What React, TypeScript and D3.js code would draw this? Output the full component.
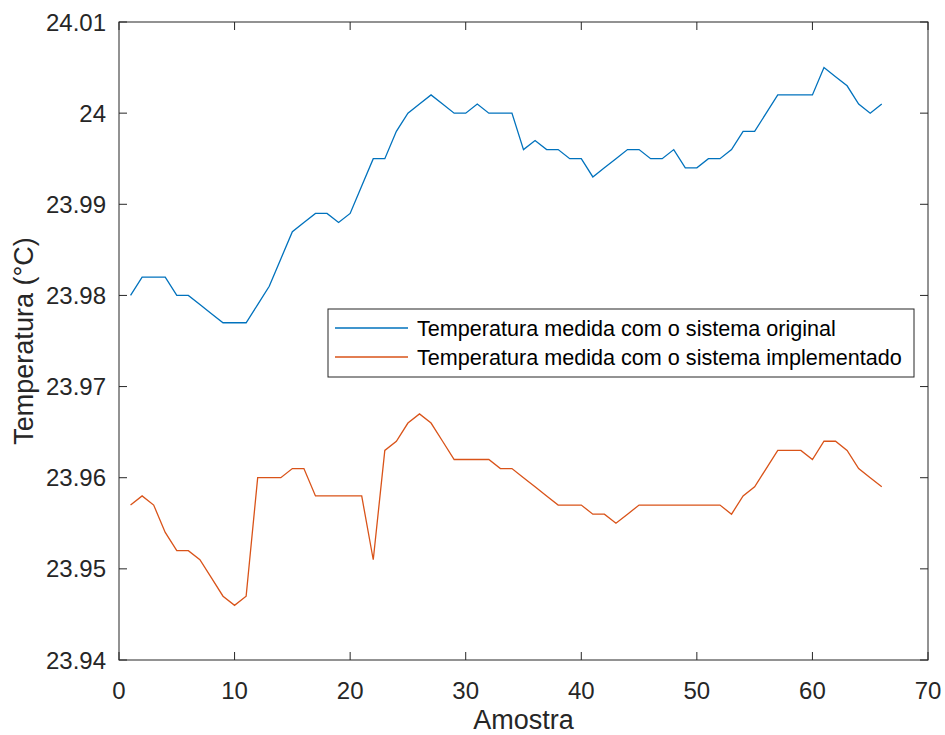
import React from "react";
import * as d3 from "d3";

const samples: number[] = Array.from({ length: 66 }, (_, i) => i + 1);

const original: number[] = [
  23.980, 23.982, 23.982, 23.982, 23.980, 23.980, 23.979, 23.978, 23.977, 23.977,
  23.977, 23.979, 23.981, 23.984, 23.987, 23.988, 23.989, 23.989, 23.988, 23.989,
  23.992, 23.995, 23.995, 23.998, 24.000, 24.001, 24.002, 24.001, 24.000, 24.000,
  24.001, 24.000, 24.000, 24.000, 23.996, 23.997, 23.996, 23.996, 23.995, 23.995,
  23.993, 23.994, 23.995, 23.996, 23.996, 23.995, 23.995, 23.996, 23.994, 23.994,
  23.995, 23.995, 23.996, 23.998, 23.998, 24.000, 24.002, 24.002, 24.002, 24.002,
  24.005, 24.004, 24.003, 24.001, 24.000, 24.001,
];

const implemented: number[] = [
  23.957, 23.958, 23.957, 23.954, 23.952, 23.952, 23.951, 23.949, 23.947, 23.946,
  23.947, 23.960, 23.960, 23.960, 23.961, 23.961, 23.958, 23.958, 23.958, 23.958,
  23.958, 23.951, 23.963, 23.964, 23.966, 23.967, 23.966, 23.964, 23.962, 23.962,
  23.962, 23.962, 23.961, 23.961, 23.960, 23.959, 23.958, 23.957, 23.957, 23.957,
  23.956, 23.956, 23.955, 23.956, 23.957, 23.957, 23.957, 23.957, 23.957, 23.957,
  23.957, 23.957, 23.956, 23.958, 23.959, 23.961, 23.963, 23.963, 23.963, 23.962,
  23.964, 23.964, 23.963, 23.961, 23.960, 23.959,
];

const xTicks: number[] = [0, 10, 20, 30, 40, 50, 60, 70];
const yTicks: number[] = [23.94, 23.95, 23.96, 23.97, 23.98, 23.99, 24.0, 24.01];
const yTickLabels: string[] = ["23.94", "23.95", "23.96", "23.97", "23.98", "23.99", "24", "24.01"];

const seriesNames: string[] = [
  "Temperatura medida com o sistema original",
  "Temperatura medida com o sistema implementado",
];
const seriesColors: string[] = ["#0072BD", "#D95319"];

const W = 945;
const H = 735;
const left = 119;
const right = 928;
const top = 22;
const bottom = 660;
const font = "Arial, 'Liberation Sans', Helvetica, sans-serif";
const axisColor = "#262626";

export default function App() {
  const x = d3.scaleLinear().domain([0, 70]).range([left, right]);
  const y = d3.scaleLinear().domain([23.94, 24.01]).range([bottom, top]);
  const line = d3
    .line<number>()
    .x((_, i) => x(samples[i]))
    .y((d) => y(d));
  const tl = 8;
  const series = [original, implemented];

  return (
    <svg
      width={W}
      height={H}
      style={{ position: "absolute", left: 0, top: 0, background: "#fff" }}
    >
      <rect x={0} y={0} width={W} height={H} fill="#fff" />
      {series.map((s, k) => (
        <path key={k} d={line(s) || ""} fill="none" stroke={seriesColors[k]} strokeWidth={1.3} />
      ))}
      <rect x={left} y={top} width={right - left} height={bottom - top} fill="none" stroke={axisColor} strokeWidth={1} />
      {xTicks.map((t) => (
        <g key={"x" + t}>
          <line x1={x(t)} x2={x(t)} y1={bottom} y2={bottom - tl} stroke={axisColor} />
          <line x1={x(t)} x2={x(t)} y1={top} y2={top + tl} stroke={axisColor} />
          <text x={x(t)} y={bottom + 39} textAnchor="middle" fontFamily={font} fontSize={24} fill={axisColor}>
            {t}
          </text>
        </g>
      ))}
      {yTicks.map((t, i) => (
        <g key={"y" + t}>
          <line x1={left} x2={left + tl} y1={y(t)} y2={y(t)} stroke={axisColor} />
          <line x1={right} x2={right - tl} y1={y(t)} y2={y(t)} stroke={axisColor} />
          <text x={left - 13} y={y(t)} dy="0.36em" textAnchor="end" fontFamily={font} fontSize={24} fill={axisColor}>
            {yTickLabels[i]}
          </text>
        </g>
      ))}
      <text x={(left + right) / 2} y={729} textAnchor="middle" fontFamily={font} fontSize={27} fill={axisColor}>
        Amostra
      </text>
      <text
        transform={`translate(33, ${(top + bottom) / 2}) rotate(-90)`}
        textAnchor="middle"
        fontFamily={font}
        fontSize={27}
        fill={axisColor}
      >
        Temperatura (°C)
      </text>
      <rect x={328} y={309} width={586} height={68} fill="#fff" stroke={axisColor} strokeWidth={1} />
      {seriesNames.map((n, k) => (
        <g key={n}>
          <line x1={335} x2={408} y1={328 + k * 29} y2={328 + k * 29} stroke={seriesColors[k]} strokeWidth={1.3} />
          <text x={417} y={328 + k * 29} dy="0.36em" fontFamily={font} fontSize={21.6} fill="#000">
            {n}
          </text>
        </g>
      ))}
    </svg>
  );
}
